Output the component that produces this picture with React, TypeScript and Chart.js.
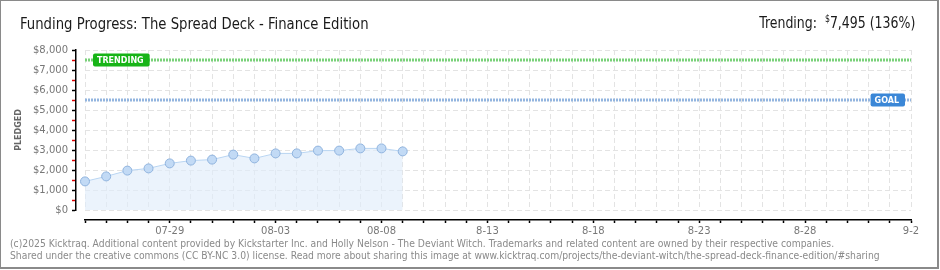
import React, { useEffect, useRef } from 'react';
import { Chart, registerables } from 'chart.js';

Chart.register(...registerables);

// ---- data ----
const dates: string[] = [
  '07-25', '07-26', '07-27', '07-28', '07-29', '07-30', '07-31',
  '08-01', '08-02', '08-03', '08-04', '08-05', '08-06', '08-07', '08-08', '08-09',
  '08-10', '08-11', '08-12', '08-13', '08-14', '08-15', '08-16', '08-17', '08-18',
  '08-19', '08-20', '08-21', '08-22', '08-23', '08-24', '08-25', '08-26', '08-27',
  '08-28', '08-29', '08-30', '08-31', '09-01', '09-02',
];
const pledged: number[] = [
  1430, 1680, 1970, 2080, 2330, 2470, 2520, 2770, 2580, 2830, 2830, 2970, 2970, 3080, 3080, 2930,
];
const trendingValue = 7495;
const goalValue = 5500;
const trendingPercent = 136;
const xTickDates: string[] = ['07-29', '08-03', '08-08', '08-13', '08-18', '08-23', '08-28', '09-02'];
const xTickLabels: string[] = ['07-29', '08-03', '08-08', '8-13', '8-18', '8-23', '8-28', '9-2'];
const yMin = 0;
const yMax = 8000;

const TITLE = 'Funding Progress: The Spread Deck - Finance Edition';
const FOOTER1 =
  '(c)2025 Kicktraq. Additional content provided by Kickstarter Inc. and Holly Nelson - The Deviant Witch. Trademarks and related content are owned by their respective companies.';
const FOOTER2 =
  'Shared under the creative commons (CC BY-NC 3.0) license. Read more about sharing this image at www.kicktraq.com/projects/the-deviant-witch/the-spread-deck-finance-edition/#sharing';

const tickFont = { family: 'DejaVu Sans', size: 10 };

function roundRect(ctx: CanvasRenderingContext2D, x: number, y: number, w: number, h: number, r: number) {
  ctx.beginPath();
  ctx.moveTo(x + r, y);
  ctx.lineTo(x + w - r, y);
  ctx.quadraticCurveTo(x + w, y, x + w, y + r);
  ctx.lineTo(x + w, y + h - r);
  ctx.quadraticCurveTo(x + w, y + h, x + w - r, y + h);
  ctx.lineTo(x + r, y + h);
  ctx.quadraticCurveTo(x, y + h, x, y + h - r);
  ctx.lineTo(x, y + r);
  ctx.quadraticCurveTo(x, y, x + r, y);
  ctx.closePath();
}

function drawBadge(
  ctx: CanvasRenderingContext2D,
  text: string,
  anchorX: number,
  cy: number,
  color: string,
  align: 'left' | 'right'
) {
  ctx.save();
  ctx.font = 'bold 8px "DejaVu Sans"';
  const tw = ctx.measureText(text).width;
  const w = tw + 10;
  const h = 13;
  const x = align === 'left' ? anchorX : anchorX - w;
  const y = cy - h / 2;
  ctx.fillStyle = color;
  roundRect(ctx, x, y, w, h, 2);
  ctx.fill();
  ctx.fillStyle = '#ffffff';
  ctx.textBaseline = 'middle';
  ctx.textAlign = 'left';
  ctx.fillText(text, x + 4, cy + 0.5);
  ctx.restore();
}

const badgePlugin = {
  id: 'badges',
  afterDatasetsDraw(chart: any) {
    const { ctx, scales } = chart;
    const x = scales.x;
    const y = scales.y;
    drawBadge(ctx, 'TRENDING', x.left + 8, y.getPixelForValue(trendingValue), '#17b417', 'left');
    drawBadge(ctx, 'GOAL', x.right - 6, y.getPixelForValue(goalValue), '#3b87d7', 'right');
  },
};

export default function App() {
  const canvasRef = useRef<HTMLCanvasElement | null>(null);

  useEffect(() => {
    const canvas = canvasRef.current;
    if (!canvas) return;
    const first = dates[0];
    const last = dates[dates.length - 1];
    const chart = new Chart(canvas, {
      type: 'line',
      data: {
        labels: dates,
        datasets: [
          {
            label: 'Pledged',
            data: pledged,
            xAxisID: 'x',
            yAxisID: 'y',
            borderColor: '#b9d5f2',
            borderWidth: 1,
            backgroundColor: 'rgba(225,237,251,0.65)',
            fill: 'origin',
            tension: 0,
            pointRadius: 4.5,
            pointBackgroundColor: '#c2daf5',
            pointBorderColor: '#8fb3de',
            pointBorderWidth: 1,
          },
          {
            label: 'Trending',
            data: [
              { x: first, y: trendingValue },
              { x: last, y: trendingValue },
            ] as any,
            xAxisID: 'x',
            yAxisID: 'y',
            borderColor: '#79d179',
            borderWidth: 3,
            borderDash: [2, 1],
            pointRadius: 0,
            fill: false,
          },
          {
            label: 'Goal',
            data: [
              { x: first, y: goalValue },
              { x: last, y: goalValue },
            ] as any,
            xAxisID: 'x',
            yAxisID: 'y',
            borderColor: '#93b5df',
            borderWidth: 3,
            borderDash: [2, 1],
            pointRadius: 0,
            fill: false,
          },
        ],
      },
      options: {
        responsive: false,
        animation: false,
        events: [],
        layout: { padding: { left: 0, right: 29, top: 50, bottom: 21 } },
        plugins: {
          legend: { display: false },
          tooltip: { enabled: false },
          title: { display: false },
        },
        scales: {
          x: {
            type: 'category',
            position: 'bottom',
            weight: 0,
            offset: false,
            grid: { color: '#e3e3e3', lineWidth: 1, drawTicks: false },
            border: { display: false, dash: [5, 3] },
            ticks: { display: false, autoSkip: false },
            afterFit: (s: any) => {
              s.height = 10;
            },
          },
          xAxis: {
            type: 'category',
            position: 'bottom',
            weight: 1,
            offset: false,
            grid: { drawOnChartArea: false, drawTicks: true, tickLength: 3, tickColor: '#000', tickWidth: 1.5 },
            border: { display: true, color: '#000', width: 1.5 },
            ticks: {
              autoSkip: false,
              maxRotation: 0,
              minRotation: 0,
              padding: 2,
              color: '#777',
              font: tickFont,
              callback: (_v: any, i: number) => {
                const k = xTickDates.indexOf(dates[i]);
                return k >= 0 ? xTickLabels[k] : '';
              },
            },
            afterFit: (s: any) => {
              s.height = 29;
            },
          },
          y: {
            type: 'linear',
            position: 'left',
            weight: 0,
            min: yMin,
            max: yMax,
            grid: { color: '#e3e3e3', lineWidth: 1, drawTicks: false },
            border: { display: false, dash: [5, 3] },
            ticks: { display: false, stepSize: 1000, autoSkip: false },
            afterFit: (s: any) => {
              s.width = 9;
            },
          },
          yAxis: {
            type: 'linear',
            position: 'left',
            weight: 1,
            min: yMin,
            max: yMax,
            grid: {
              drawOnChartArea: false,
              drawTicks: true,
              tickLength: 4,
              tickWidth: 1.5,
              tickColor: (ctx: any) => (ctx.tick && ctx.tick.value % 1000 === 0 ? '#000' : '#e00000'),
            },
            border: { display: true, color: '#000', width: 1.5 },
            ticks: {
              stepSize: 500,
              autoSkip: false,
              padding: 4,
              color: '#777',
              font: tickFont,
              callback: (v: any) => (Number(v) % 1000 === 0 ? '$' + Number(v).toLocaleString('en-US') : ''),
            },
            title: {
              display: true,
              text: 'PLEDGED',
              color: '#666',
              font: { family: 'DejaVu Sans', size: 8, weight: 'bold' },
              padding: { top: 14, bottom: 0 },
            },
            afterFit: (s: any) => {
              s.width = 76;
            },
          },
        },
      } as any,
      plugins: [badgePlugin],
    });
    return () => chart.destroy();
  }, []);

  return (
    <div
      style={{
        position: 'absolute',
        left: 0,
        top: 0,
        width: 940,
        height: 270,
        background: '#fff',
        overflow: 'hidden',
      }}
    >
      <div
        style={{
          position: 'absolute',
          left: 0,
          top: 0,
          width: 939,
          height: 269,
          boxSizing: 'border-box',
          borderTop: '1px solid #8a8a8a',
          borderLeft: '1px solid #8a8a8a',
          borderRight: '2px solid #8a8a8a',
          borderBottom: '2px solid #8a8a8a',
        }}
      />
      <canvas ref={canvasRef} width={940} height={270} style={{ position: 'absolute', left: 0, top: 0 }} />
      <div
        style={{
          position: 'absolute',
          left: 20,
          top: 16,
          fontFamily: '"Liberation Sans Narrow", "DejaVu Sans Condensed", sans-serif',
          fontSize: 16,
          lineHeight: '16px',
          color: '#1a1a1a',
          whiteSpace: 'nowrap',
          transform: 'scaleX(0.92)',
          transformOrigin: '0 0',
        }}
      >
        {TITLE}
      </div>
      <div
        style={{
          position: 'absolute',
          right: 25,
          top: 14,
          fontFamily: '"Liberation Sans Narrow", "DejaVu Sans Condensed", sans-serif',
          fontSize: 16,
          lineHeight: '17px',
          color: '#1a1a1a',
          whiteSpace: 'nowrap',
          transform: 'scaleX(0.87)',
          transformOrigin: '100% 0',
        }}
      >
        Trending:{'\u00a0 '}
        <span style={{ fontSize: 10, verticalAlign: 'top', lineHeight: '10px' }}>$</span>
        {trendingValue.toLocaleString('en-US')} ({trendingPercent}%)
      </div>
      <div
        style={{
          position: 'absolute',
          left: 10,
          top: 238,
          fontFamily: '"DejaVu Sans", sans-serif',
          fontSize: 10,
          lineHeight: '12px',
          color: '#8a8a8a',
          whiteSpace: 'nowrap',
          transform: 'scaleX(0.924)',
          transformOrigin: '0 0',
        }}
      >
        <div>{FOOTER1}</div>
        <div>{FOOTER2}</div>
      </div>
    </div>
  );
}
